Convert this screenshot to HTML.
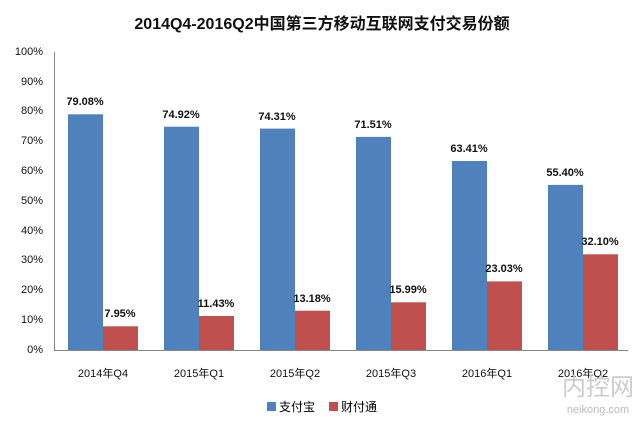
<!DOCTYPE html>
<html><head><meta charset="utf-8"><style>body{margin:0;background:#fff}</style></head><body>
<svg width="644" height="425" xmlns="http://www.w3.org/2000/svg" font-family="'Liberation Sans','Noto Sans CJK SC',sans-serif">
<rect width="644" height="425" fill="#fff"/>
<text x="322" y="29" text-anchor="middle" font-size="16" font-weight="bold" fill="#111">2014Q4-2016Q2中国第三方移动互联网支付交易份额</text>
<g font-size="11" fill="#111" text-anchor="end">
<text x="43" y="55">100%</text><text x="43" y="85">90%</text><text x="43" y="114">80%</text><text x="43" y="144">70%</text><text x="43" y="174">60%</text><text x="43" y="204">50%</text><text x="43" y="234">40%</text><text x="43" y="263">30%</text><text x="43" y="293">20%</text><text x="43" y="323">10%</text><text x="43" y="353">0%</text>
</g>
<g fill="#4f81bd">
<rect x="68" y="114.3" width="35" height="235.7"/>
<rect x="164" y="126.7" width="35" height="223.3"/>
<rect x="260" y="128.6" width="35" height="221.4"/>
<rect x="356" y="136.9" width="35" height="213.1"/>
<rect x="452" y="161" width="35" height="189"/>
<rect x="548" y="184.9" width="35" height="165.1"/>
</g>
<g fill="#c0504d">
<rect x="103" y="326.3" width="35" height="23.7"/>
<rect x="199" y="316" width="35" height="34"/>
<rect x="295" y="310.7" width="35" height="39.3"/>
<rect x="391" y="302.3" width="35" height="47.7"/>
<rect x="487" y="281.4" width="35" height="68.6"/>
<rect x="583" y="254.3" width="35" height="95.7"/>
</g>
<line x1="54.5" y1="52" x2="54.5" y2="351" stroke="#888"/>
<line x1="54" y1="350.5" x2="628" y2="350.5" stroke="#888"/>
<g font-size="11" font-weight="bold" fill="#111" text-anchor="middle">
<text x="85" y="105">79.08%</text><text x="181" y="118">74.92%</text><text x="277" y="120">74.31%</text><text x="373" y="128">71.51%</text><text x="469" y="152">63.41%</text><text x="565" y="176">55.40%</text>
<text x="120" y="317">7.95%</text><text x="216" y="307">11.43%</text><text x="312" y="302">13.18%</text><text x="408" y="293">15.99%</text><text x="504" y="272">23.03%</text><text x="600" y="245">32.10%</text>
</g>
<g font-size="11" fill="#111" text-anchor="middle">
<text x="103" y="377">2014年Q4</text><text x="199" y="377">2015年Q1</text><text x="295" y="377">2015年Q2</text><text x="391" y="377">2015年Q3</text><text x="487" y="377">2016年Q1</text><text x="583" y="377">2016年Q2</text>
</g>
<rect x="267" y="402" width="9" height="9" fill="#4f81bd"/><text x="279" y="411" font-size="12">支付宝</text>
<rect x="329" y="402" width="9" height="9" fill="#c0504d"/><text x="341" y="411" font-size="12">财付通</text>
<text x="598" y="395" text-anchor="middle" font-size="24" fill="#ccc">内控网</text>
<text x="598" y="413" text-anchor="middle" font-size="11" fill="#bbb">neikong.com</text>
</svg>
</body></html>
